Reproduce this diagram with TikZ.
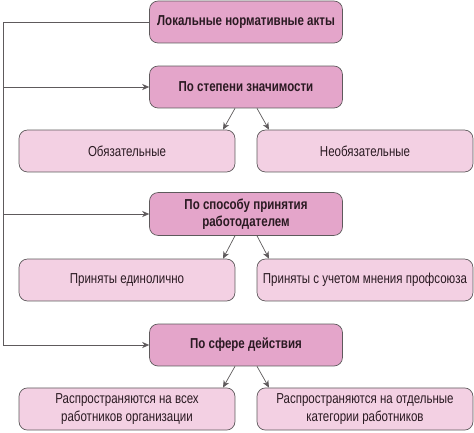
\documentclass[tikz,border=0pt]{standalone}
\usepackage{fontspec}
\setmainfont{Liberation Sans}[FakeStretch=0.80]
\usetikzlibrary{positioning,arrows.meta}
\definecolor{darkpink}{HTML}{E4A5CA}
\definecolor{lightpink}{HTML}{F3D0E3}
\definecolor{edgegray}{HTML}{5E5A5C}
\definecolor{inkdark}{HTML}{2A1A22}
\begin{document}
\begin{tikzpicture}[x=0.02cm, y=-0.02cm,
    group/.style={draw=edgegray, fill=darkpink, rounded corners=0.17cm, minimum width=3.86cm, minimum height=0.84cm, align=center, text=inkdark, font=\fontsize{8.2}{10}\selectfont\bfseries},
    kind/.style={draw=edgegray, fill=lightpink, rounded corners=0.17cm, minimum width=4.32cm, minimum height=0.84cm, align=center, text=inkdark, font=\fontsize{8.2}{10}\selectfont},
    arr/.style={-{Stealth[length=4pt,width=3.5pt]}, draw=edgegray, thin}]
    \useasboundingbox (0, 0) rectangle (474, 433);

    % Main box
    \node[group] (lna) at (246, 22) {Локальные нормативные акты};

    % Classification groups
    \node[group] (sig) at (246, 87) {По степени значимости};
    \node[group] (emp) at (246, 214) {По способу принятия\\работодателем};
    \node[group] (area) at (246, 345) {По сфере действия};

    % Kinds
    \node[kind] (obl) at (127, 151) {Обязательные};
    \node[kind] (nobl) at (365, 151) {Необязательные};
    \node[kind] (solo) at (127, 280) {Приняты единолично};
    \node[kind] (union) at (365, 280) {Приняты с учетом мнения профсоюза};
    \node[kind] (all) at (127, 409) {Распространяются на всех\\работников организации};
    \node[kind] (part) at (365, 409) {Распространяются на отдельные\\категории работников};

    % Left spine
    \coordinate (spine) at (3, 22);
    \draw[arr] (lna.west) -- (spine) |- (area.west);
    \draw[arr] (spine |- sig.west) -- (sig.west);
    \draw[arr] (spine |- emp.west) -- (emp.west);

    % Branches
    \foreach \g/\l/\r in {sig/obl/nobl, emp/solo/union, area/all/part} {
        \draw[arr] ([xshift=-0.22cm]\g.south) -- ([xshift=-0.46cm]\g.south |- \l.north);
        \draw[arr] ([xshift=0.22cm]\g.south) -- ([xshift=0.46cm]\g.south |- \r.north);
    }
\end{tikzpicture}
\end{document}
